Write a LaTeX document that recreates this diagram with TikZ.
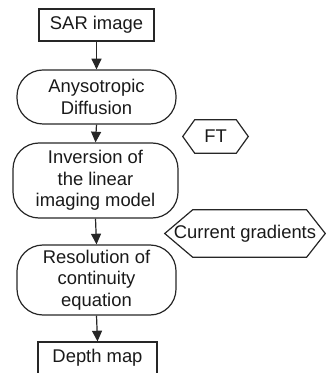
\documentclass[tikz,border=0pt]{standalone}
\usepackage{fontspec}
\setmainfont{Liberation Sans}
\usetikzlibrary{arrows.meta}
\tikzset{
  every node/.style={font=\fontsize{13.8}{16}\selectfont, align=center, inner sep=0pt, text=black!90},
  box/.style={draw=black!85, line width=0.9pt},
  roundbox/.style={draw=black!85, line width=0.9pt, rounded corners=19.5pt},
  hexnode/.style={draw=none},
  hexline/.style={draw=black!85, line width=0.9pt},
  flow/.style={draw=black!85, line width=0.9pt, -{Triangle[width=7.5pt,length=8pt]}}
}
\begin{document}
\begin{tikzpicture}[x=0.75pt,y=-0.75pt]
\useasboundingbox (0,0) rectangle (325,373);
\node[box, minimum width=86.25pt, minimum height=24pt] (sar) at (96.5,25) {SAR image};
\node[roundbox, minimum width=119.25pt, minimum height=40.5pt] (ad) at (96.5,97) {Anysotropic\\Diffusion};
\node[roundbox, minimum width=123.75pt, minimum height=56.25pt] (inv) at (95.5,180.5) {Inversion of\\the linear\\imaging model};
\node[roundbox, minimum width=119.25pt, minimum height=52.5pt] (res) at (96.5,280) {Resolution of\\continuity\\equation};
\node[box, minimum width=89.25pt, minimum height=24pt] (dm) at (97.5,358) {Depth map};
\node[hexnode, minimum width=48.75pt, minimum height=24.75pt] (ft) at (215.5,136.5) {FT};
\node[hexnode, minimum width=120pt, minimum height=35.25pt] (cg) at (245,233.5) {Current gradients};
\draw[hexline] (ft.west) -- ([xshift=9pt]ft.north west) -- ([xshift=-9pt]ft.north east) -- (ft.east) -- ([xshift=-9pt]ft.south east) -- ([xshift=9pt]ft.south west) -- cycle;
\draw[hexline] (cg.west) -- ([xshift=21pt]cg.north west) -- ([xshift=-14pt]cg.north east) -- (cg.east) -- ([xshift=-14pt]cg.south east) -- ([xshift=21pt]cg.south west) -- cycle;
\draw[flow] (sar.south) -- (ad.north);
\draw[flow] (ad.south) -- (inv.north);
\draw[flow] (inv.south) -- (res.north);
\draw[flow] (res.south) -- (dm.north);
\end{tikzpicture}
\end{document}
